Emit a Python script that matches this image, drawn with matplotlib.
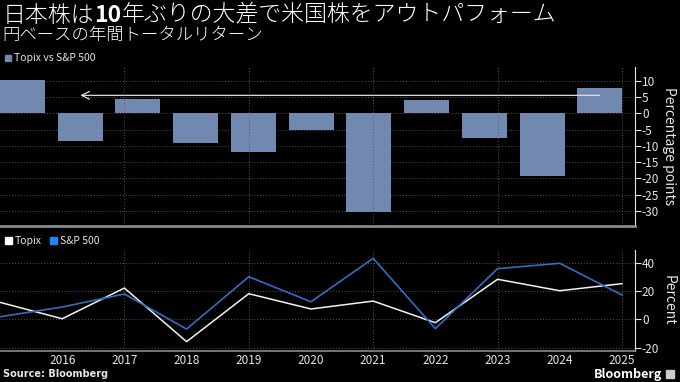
import matplotlib
matplotlib.use('Agg')
import matplotlib.pyplot as plt
import matplotlib.patches as mpatches
import numpy as np

plt.rcParams['font.family'] = ['Noto Sans CJK JP', 'DejaVu Sans']
plt.rcParams['axes.unicode_minus'] = False

years = [2015, 2016, 2017, 2018, 2019, 2020, 2021, 2022, 2023, 2024, 2025]
topix = [12.0, 0.4, 22.1, -15.8, 18.1, 7.3, 12.9, -2.4, 28.3, 20.2, 25.2]
sp500 = [1.8, 8.7, 17.9, -6.9, 30.1, 12.4, 43.1, -6.6, 35.8, 39.6, 17.2]
diff = [10.1, -8.4, 4.4, -9.1, -12.0, -5.2, -30.4, 4.0, -7.6, -19.2, 7.7]
top_ticks = [10, 5, 0, -5, -10, -15, -20, -25, -30]
bot_ticks = [40, 20, 0, -20]
year_labels = ['2016', '2017', '2018', '2019', '2020', '2021', '2022', '2023', '2024', '2025']

bg = 'black'
fg = '#e6e6e6'
grid_c = '#555555'
bar_c = '#7189b0'
blue = '#2f6fc0'

fig = plt.figure(figsize=(6.8, 3.82), dpi=100, facecolor=bg)

W, H = 680.0, 382.0
def box(x0, y0, x1, y1):
    return [x0 / W, 1 - y1 / H, (x1 - x0) / W, (y1 - y0) / H]

# ---- top panel: bars
ax1 = fig.add_axes(box(0, 67, 635, 226), facecolor=bg)
ax1.bar(np.arange(len(diff)), diff, width=0.78, color=bar_c)
ax1.set_xlim(-0.39, 10.61)
ax1.set_ylim(-34.6, 14.2)
ax1.set_xticks([])
ax1.yaxis.tick_right()
ax1.yaxis.set_label_position('right')
ax1.set_yticks(top_ticks)
ax1.set_yticklabels([str(v) for v in top_ticks])
ax1.tick_params(axis='y', colors=fg, labelsize=8.5, length=4, width=0.8, pad=1)
ax1.set_ylabel('Percentage points', color=fg, fontsize=10, rotation=-90, labelpad=12)
for s in ['top', 'left']:
    ax1.spines[s].set_visible(False)
ax1.spines['right'].set_color(fg)
ax1.spines['bottom'].set_color('#8a8a8a')
ax1.spines['bottom'].set_linewidth(2)
for v in top_ticks:
    ax1.axhline(v, color=grid_c, lw=0.7, ls=(0, (1, 2)), zorder=0)

# vertical year grid on top panel
ax1t = ax1.twiny()
ax1t.set_xlim(2015, 2025.21)
ax1t.set_xticks([])
for s in ax1t.spines.values():
    s.set_visible(False)
for yr in years[2::2]:
    ax1t.axvline(yr, color=grid_c, lw=0.7, ls=(0, (1, 2)), zorder=0)

ax1.annotate('', xy=(1, 5.5), xytext=(10, 5.5),
             arrowprops=dict(arrowstyle='->', color='#dddddd', lw=0.9,
                             mutation_scale=14, shrinkA=0, shrinkB=0))

# ---- bottom panel: lines
ax2 = fig.add_axes(box(0, 250, 635, 351), facecolor=bg)
for v in bot_ticks:
    ax2.axhline(v, color=grid_c, lw=0.7, ls=(0, (1, 2)), zorder=0)
for yr in years[2::2]:
    ax2.axvline(yr, color=grid_c, lw=0.7, ls=(0, (1, 2)), zorder=0)
ax2.plot(years, topix, color='#f2f2f2', lw=1.1)
ax2.plot(years, sp500, color=blue, lw=1.2)
ax2.set_xlim(2015, 2025.21)
ax2.set_ylim(-22.4, 49)
ax2.set_xticks(years[1:])
ax2.set_xticklabels(year_labels)
ax2.yaxis.tick_right()
ax2.yaxis.set_label_position('right')
ax2.set_yticks(bot_ticks)
ax2.tick_params(axis='y', colors=fg, labelsize=8.5, length=4, width=0.8, pad=1)
ax2.tick_params(axis='x', colors=fg, labelsize=8.5, length=0, pad=2)
ax2.set_ylabel('Percent', color=fg, fontsize=10, rotation=-90, labelpad=12)
for s in ['top', 'left']:
    ax2.spines[s].set_visible(False)
ax2.spines['right'].set_color(fg)
ax2.spines['bottom'].set_color('#8a8a8a')
ax2.spines['bottom'].set_linewidth(1.2)

# legends
fig.patches.append(mpatches.Rectangle((5 / W, 1 - 61 / H), 6 / W, 6 / H,
                                      transform=fig.transFigure, color=bar_c))
fig.text(14 / W, 1 - 58 / H, 'Topix vs S&P 500', color=fg, fontsize=7.5, va='center')
fig.patches.append(mpatches.Rectangle((5 / W, 1 - 244 / H), 7 / W, 7 / H,
                                      transform=fig.transFigure, color='white'))
fig.text(15 / W, 1 - 240.5 / H, 'Topix', color=fg, fontsize=7.5, va='center')
fig.patches.append(mpatches.Rectangle((50 / W, 1 - 244 / H), 7 / W, 7 / H,
                                      transform=fig.transFigure, color='#1e88f0'))
fig.text(60 / W, 1 - 240.5 / H, 'S&P 500', color=fg, fontsize=7.5, va='center')

# title: "10" in bold
renderer = fig.canvas.get_renderer()
x = 3 / W
for part, wt in [('日本株は', 'light'), ('10', 'bold'), ('年ぶりの大差で米国株をアウトパフォーム', 'light')]:
    t = fig.text(x, 1 - 15 / H, part, color='white', fontsize=16.5, fontweight=wt, va='center')
    bb = t.get_window_extent(renderer)
    x += bb.width / fig.bbox.width
fig.text(2 / W, 1 - 35 / H, '円ベースの年間トータルリターン', color='white', fontsize=12.5,
         fontweight='light', va='center')

fig.text(3 / W, 1 - 374 / H, 'Source: Bloomberg', color=fg, fontsize=7,
         fontweight='bold', family='DejaVu Sans', va='center')
fig.text(662 / W, 1 - 374.5 / H, 'Bloomberg', color='white', fontsize=9,
         fontweight='bold', va='center', ha='right')
fig.patches.append(mpatches.Rectangle((666 / W, 1 - 378 / H), 8 / W, 8 / H,
                                      transform=fig.transFigure, color='#cccccc'))

fig.savefig('out.png', dpi=100, facecolor=bg)
